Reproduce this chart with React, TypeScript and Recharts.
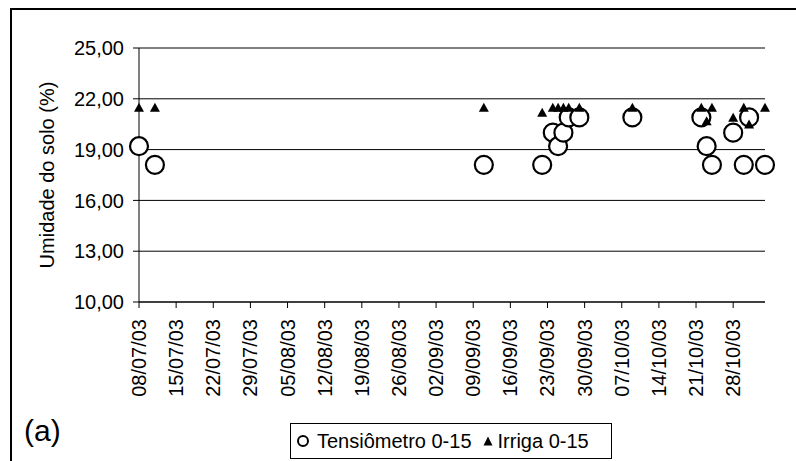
import React from "react";
import {
  ScatterChart,
  Scatter,
  XAxis,
  YAxis,
  CartesianGrid,
  Legend,
} from "recharts";

// dates of each reading (dd/mm/yy)
const readingDates = [
  "08/07/03",
  "11/07/03",
  "11/09/03",
  "22/09/03",
  "24/09/03",
  "25/09/03",
  "26/09/03",
  "27/09/03",
  "29/09/03",
  "09/10/03",
  "22/10/03",
  "23/10/03",
  "24/10/03",
  "28/10/03",
  "30/10/03",
  "31/10/03",
  "03/11/03",
];
const tensiometroValues = [
  19.2, 18.1, 18.1, 18.1, 20.0, 19.2, 20.0, 20.9, 20.9, 20.9, 20.9, 19.2, 18.1,
  20.0, 18.1, 20.9, 18.1,
];
const irrigaValues = [
  21.5, 21.5, 21.5, 21.2, 21.5, 21.5, 21.5, 21.5, 21.5, 21.5, 21.5, 20.7, 21.5,
  20.9, 21.5, 20.5, 21.5,
];

const startDate = "08/07/03";
const endDate = "03/11/03";
const xTickDates = [
  "08/07/03",
  "15/07/03",
  "22/07/03",
  "29/07/03",
  "05/08/03",
  "12/08/03",
  "19/08/03",
  "26/08/03",
  "02/09/03",
  "09/09/03",
  "16/09/03",
  "23/09/03",
  "30/09/03",
  "07/10/03",
  "14/10/03",
  "21/10/03",
  "28/10/03",
];
const yTicks = [10, 13, 16, 19, 22, 25];

const FONT = "'Liberation Sans', Arial, sans-serif";
const DAY = 86400000;

function toTime(s: string) {
  const [d, m, y] = s.split("/").map(Number);
  return Date.UTC(2000 + y, m - 1, d);
}
const t0 = toTime(startDate);
const toDay = (s: string) => Math.round((toTime(s) - t0) / DAY);

function fmtDay(v: number) {
  const d = new Date(t0 + v * DAY);
  const p = (n: number) => String(n).padStart(2, "0");
  return `${p(d.getUTCDate())}/${p(d.getUTCMonth() + 1)}/${p(d.getUTCFullYear() % 100)}`;
}

const tensData = readingDates.map((s, i) => ({ x: toDay(s), y: tensiometroValues[i] }));
const irrigaData = readingDates.map((s, i) => ({ x: toDay(s), y: irrigaValues[i] }));

function CircleMark(props: any) {
  const { cx, cy } = props;
  return <circle cx={cx} cy={cy} r={9} fill="#fff" stroke="#000" strokeWidth={2.2} />;
}

function TriangleMark(props: any) {
  const { cx, cy } = props;
  return (
    <polygon
      points={`${cx},${cy - 4.6} ${cx - 5},${cy + 4.4} ${cx + 5},${cy + 4.4}`}
      fill="#000"
    />
  );
}

function DateTick(props: any) {
  const { x, y, payload } = props;
  return (
    <text
      x={x}
      y={y}
      transform={`rotate(-90, ${x}, ${y})`}
      textAnchor="end"
      dy="0.35em"
      fill="#000"
      fontSize={20}
      fontFamily={FONT}
    >
      {fmtDay(payload.value)}
    </text>
  );
}

function LegendBox() {
  return (
    <div
      style={{
        boxSizing: "border-box",
        width: 322,
        height: 36,
        border: "1px solid #000",
        background: "#fff",
        display: "flex",
        alignItems: "center",
        fontFamily: FONT,
        fontSize: 20,
        color: "#000",
        paddingLeft: 5,
      }}
    >
      <svg width={14} height={14} style={{ marginRight: 7 }}>
        <circle cx={7} cy={7} r={5} fill="#fff" stroke="#000" strokeWidth={2} />
      </svg>
      <span>Tensiômetro 0-15</span>
      <svg width={12} height={12} style={{ marginLeft: 10, marginRight: 4 }}>
        <polygon points="6,1.5 1.5,10.5 10.5,10.5" fill="#000" />
      </svg>
      <span>Irriga 0-15</span>
    </div>
  );
}

export default function App() {
  return (
    <div
      style={{
        position: "absolute",
        left: 0,
        top: 0,
        width: 796,
        height: 461,
        background: "#fff",
        overflow: "hidden",
        fontFamily: FONT,
      }}
    >
      <div
        style={{
          position: "absolute",
          left: 10,
          top: 8,
          width: 820,
          height: 480,
          border: "2px solid #000",
        }}
      />
      <ScatterChart
        width={796}
        height={461}
        margin={{ top: 48, right: 31, bottom: 0, left: 0 }}
        style={{ position: "absolute", left: 0, top: 0 }}
      >
        <CartesianGrid horizontal vertical={false} stroke="#000" strokeWidth={1} />
        <XAxis
          type="number"
          dataKey="x"
          domain={[0, toDay(endDate)]}
          ticks={xTickDates.map(toDay)}
          interval={0}
          height={159}
          tickSize={6}
          tickMargin={11}
          axisLine={{ stroke: "#000" }}
          tickLine={{ stroke: "#000" }}
          tick={<DateTick />}
        />
        <YAxis
          type="number"
          dataKey="y"
          domain={[10, 25]}
          ticks={yTicks}
          interval={0}
          width={139}
          tickSize={6}
          tickMargin={9}
          axisLine={{ stroke: "#000" }}
          tickLine={{ stroke: "#000" }}
          tick={{ fill: "#000", fontSize: 20, fontFamily: FONT }}
          tickFormatter={(v: number) => v.toFixed(2).replace(".", ",")}
          label={{
            content: (p: any) => {
              const vb = p.viewBox;
              const cy = vb.y + vb.height / 2;
              const cx = 47;
              return (
                <text
                  x={cx}
                  y={cy}
                  transform={`rotate(-90, ${cx}, ${cy})`}
                  textAnchor="middle"
                  dy="0.35em"
                  fill="#000"
                  fontSize={20}
                  fontFamily={FONT}
                >
                  Umidade do solo (%)
                </text>
              );
            },
          }}
        />
        <Legend
          layout="horizontal"
          verticalAlign="middle"
          align="center"
          content={<LegendBox />}
          wrapperStyle={{ left: 290, top: 423, width: 322, height: 36 }}
        />
        <Scatter
          name="Tensiômetro 0-15"
          data={tensData}
          shape={<CircleMark />}
          isAnimationActive={false}
        />
        <Scatter
          name="Irriga 0-15"
          data={irrigaData}
          shape={<TriangleMark />}
          isAnimationActive={false}
        />
      </ScatterChart>
      <div
        style={{
          position: "absolute",
          left: 24,
          top: 414,
          fontSize: 30,
          lineHeight: "34px",
          color: "#000",
        }}
      >
        (a)
      </div>
    </div>
  );
}
